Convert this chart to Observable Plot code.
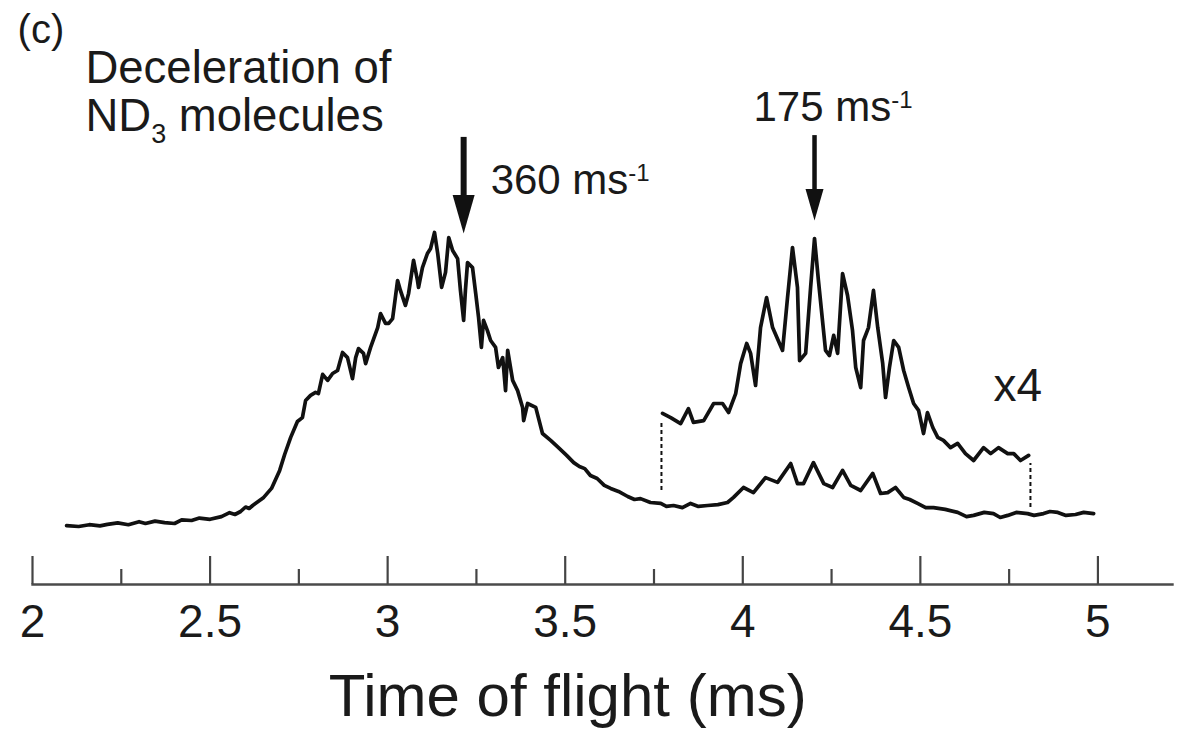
<!DOCTYPE html>
<html><head><meta charset="utf-8">
<script src="https://cdn.jsdelivr.net/npm/d3@7"></script>
<script src="https://cdn.jsdelivr.net/npm/@observablehq/plot@0.6"></script>
<style>html,body{margin:0;padding:0;background:#fff;}#chart{width:1179px;height:731px;}</style>
</head><body><div id="chart"></div>
<script>
// Full ND3 trace: [time of flight (ms), signal (arb. units)]
const mainTrace = [[2.096,3.3],[2.13,3.0],[2.16,3.6],[2.19,3.2],[2.211,3.7],[2.24,4.2],[2.27,3.6],[2.30,4.6],[2.318,4.0],[2.345,4.8],[2.372,4.3],[2.40,4.0],[2.42,5.2],[2.448,5.0],[2.47,5.8],[2.50,5.4],[2.532,6.3],[2.555,7.6],[2.57,7.0],[2.586,8.0],[2.60,9.5],[2.61,9.0],[2.620,10.0],[2.651,12.7],[2.673,15.7],[2.696,21.7],[2.710,27.0],[2.727,32.7],[2.746,38.0],[2.760,39.3],[2.769,45.0],[2.783,46.7],[2.797,47.7],[2.805,47.3],[2.817,53.7],[2.831,51.7],[2.845,54.0],[2.859,55.0],[2.873,61.0],[2.887,59.3],[2.901,52.3],[2.910,59.3],[2.918,62.3],[2.932,60.7],[2.938,57.3],[2.952,62.7],[2.972,69.3],[2.980,74.0],[2.994,70.7],[3.003,70.7],[3.014,72.3],[3.028,85.0],[3.036,81.7],[3.050,76.7],[3.059,80.7],[3.073,91.7],[3.084,85.0],[3.087,82.7],[3.098,89.3],[3.112,94.0],[3.121,95.7],[3.132,101.0],[3.141,94.0],[3.152,82.7],[3.163,87.7],[3.172,99.3],[3.183,95.0],[3.197,92.3],[3.205,81.7],[3.214,71.7],[3.219,81.7],[3.225,91.0],[3.239,89.3],[3.248,80.7],[3.256,72.7],[3.264,62.7],[3.270,71.7],[3.281,68.3],[3.290,65.0],[3.304,62.7],[3.312,56.0],[3.324,59.3],[3.332,48.3],[3.338,61.7],[3.352,51.7],[3.366,48.3],[3.380,42.7],[3.383,38.3],[3.394,44.0],[3.417,42.7],[3.436,34.0],[3.459,31.7],[3.481,29.3],[3.504,26.7],[3.524,24.3],[3.54,23.0],[3.555,22.3],[3.571,20.0],[3.59,19.0],[3.61,16.7],[3.628,15.7],[3.65,14.7],[3.676,13.0],[3.695,12.0],[3.712,12.3],[3.74,11.0],[3.769,10.7],[3.785,9.7],[3.805,10.0],[3.83,9.3],[3.853,10.7],[3.875,9.7],[3.901,10.0],[3.93,10.3],[3.957,11.0],[3.974,12.7],[4.002,16.0],[4.030,14.3],[4.064,19.3],[4.098,17.7],[4.135,24.0],[4.154,17.3],[4.171,17.3],[4.199,24.3],[4.228,17.3],[4.253,16.0],[4.281,21.7],[4.304,16.7],[4.332,15.0],[4.366,20.7],[4.388,14.0],[4.408,14.3],[4.430,16.0],[4.453,12.7],[4.47,12.0],[4.492,10.7],[4.515,9.3],[4.537,9.3],[4.57,8.7],[4.605,7.7],[4.63,6.3],[4.650,6.7],[4.68,7.7],[4.706,7.3],[4.725,6.0],[4.746,6.7],[4.77,7.7],[4.802,7.3],[4.82,6.7],[4.847,7.3],[4.865,8.0],[4.887,7.7],[4.91,6.7],[4.937,7.0],[4.96,7.7],[4.988,7.3]];
// Magnified (x4) slow part: [time of flight (ms), signal]
const x4Trace = [[3.774,40.7],[3.797,39.3],[3.825,37.3],[3.847,42.3],[3.861,37.7],[3.890,38.3],[3.918,44.0],[3.943,44.0],[3.960,41.0],[3.980,47.3],[3.994,57.3],[4.011,64.0],[4.022,60.7],[4.036,50.0],[4.050,69.3],[4.067,79.3],[4.084,69.3],[4.112,61.7],[4.126,79.3],[4.140,96.0],[4.154,82.7],[4.160,58.3],[4.177,60.7],[4.191,82.7],[4.202,99.0],[4.213,85.0],[4.233,61.7],[4.244,60.0],[4.256,66.7],[4.267,60.7],[4.281,87.3],[4.295,80.0],[4.309,68.3],[4.318,56.0],[4.332,49.3],[4.340,65.0],[4.354,69.3],[4.368,81.7],[4.380,69.3],[4.394,57.3],[4.402,46.0],[4.413,56.0],[4.425,65.0],[4.439,62.7],[4.453,55.0],[4.467,49.3],[4.481,44.0],[4.495,41.7],[4.509,34.0],[4.520,41.0],[4.535,36.0],[4.549,32.7],[4.565,31.7],[4.585,29.3],[4.605,30.7],[4.627,27.3],[4.650,25.0],[4.678,29.3],[4.698,27.3],[4.720,29.3],[4.746,27.3],[4.763,27.3],[4.782,25.0],[4.805,26.7]];
// dashed connectors of the x4 trace
const connT = [3.771, 4.810];
const connTop = [38.3, 24.0];
const connBottom = [15.0, 9.3];
// velocity arrows
const arrowT = [3.214, 4.202];
const arrowTop = [132.7, 133.3];
const arrowTip = [100.7, 105.0];
// axis
const majorTicks = [2, 2.5, 3, 3.5, 4, 4.5, 5];
const tickLabels = ["2", "2.5", "3", "3.5", "4", "4.5", "5"];
const minorTicks = [2.25, 2.75, 3.25, 3.75, 4.25, 4.75];

const mainData = mainTrace.map(([t, v]) => ({t, v}));
const x4Data = x4Trace.map(([t, v]) => ({t, v}));
const conn = connT.map((t, i) => ({t, top: connTop[i], bottom: connBottom[i]}));
const headR = [11, 9];
const shaftW = [6, 4.5];
const arrows = arrowT.map((t, i) => ({t, top: arrowTop[i], tip: arrowTip[i], r: headR[i], w: shaftW[i]}));

const headSymbol = {
  draw(context, size) {
    const r = Math.sqrt(size / Math.PI);
    const h = r * 3.5;
    context.moveTo(0, 0);
    context.lineTo(-r, -h);
    context.lineTo(r, -h);
    context.closePath();
  }
};

const axisLevel = -16.33, majorTop = -7.0, minorTop = -11.33;
const ink = "#111";
const txt = "#1a1a1a";
const font = "'Liberation Sans', Arial, Helvetica, sans-serif";

const chart = Plot.plot({
  width: 1179,
  height: 731,
  marginLeft: 32,
  marginRight: 7,
  marginTop: 0,
  marginBottom: 147,
  style: {fontFamily: font, background: "#fff", color: ink},
  x: {domain: [2, 5.21]},
  y: {domain: [0, 100], range: [535, 235], axis: null},
  r: {type: "identity"},
  marks: [
    Plot.frame({anchor: "bottom", stroke: "#4a4a4a", strokeWidth: 2.4}),
    Plot.ruleX(majorTicks, {x: d => d, y1: axisLevel, y2: majorTop, stroke: "#444", strokeWidth: 2.2}),
    Plot.ruleX(minorTicks, {x: d => d, y1: axisLevel, y2: minorTop, stroke: "#444", strokeWidth: 2.2}),
    Plot.axisX(majorTicks, {tickSize: 0, tickPadding: 20, fontSize: 46, fill: txt,
      tickFormat: d => tickLabels[majorTicks.indexOf(d)], label: null}),
    Plot.ruleX(conn, {x: "t", y1: "bottom", y2: "top", stroke: ink, strokeWidth: 2, strokeDasharray: "4,3"}),
    Plot.line(mainData, {x: "t", y: "v", stroke: ink, strokeWidth: 3.7, strokeLinejoin: "round", strokeLinecap: "round"}),
    Plot.line(x4Data, {x: "t", y: "v", stroke: ink, strokeWidth: 3.7, strokeLinejoin: "round", strokeLinecap: "round"}),
    Plot.ruleX(arrows, {x: "t", y1: "top", y2: d => d.tip + 6, stroke: ink, strokeWidth: d => d.w}),
    Plot.dot(arrows, {x: "t", y: "tip", r: "r", symbol: headSymbol, fill: ink, stroke: "none"}),
    Plot.text(["(c)"], {x: 1.958, y: 164.3, text: d => d, textAnchor: "start", lineAnchor: "bottom", fontSize: 40, fill: txt}),
    Plot.text(["Deceleration of"], {x: 2.149, y: 150.7, text: d => d, textAnchor: "start", lineAnchor: "bottom", fontSize: 45.5, fill: txt}),
    Plot.text(["ND_3_ molecules"], {x: 2.149, y: 135, text: d => d, textAnchor: "start", lineAnchor: "bottom", fontSize: 45.5, fill: txt}),
    Plot.text(["360 ms^-1"], {x: 3.290, y: 114, text: d => d, textAnchor: "start", lineAnchor: "bottom", fontSize: 42, fill: txt}),
    Plot.text(["175 ms^-1"], {x: 4.030, y: 138.3, text: d => d, textAnchor: "start", lineAnchor: "bottom", fontSize: 42, fill: txt}),
    Plot.text(["x4"], {x: 4.706, y: 44.7, text: d => d, textAnchor: "start", lineAnchor: "bottom", fontSize: 46, fill: txt}),
    Plot.text(["Time of flight (ms)"], {x: 3.507, y: -60.3, text: d => d, textAnchor: "middle", lineAnchor: "bottom", fontSize: 60, fill: txt})
  ]
});

// superscripts / subscripts as tspans
const NS = "http://www.w3.org/2000/svg";
chart.querySelectorAll("text").forEach(el => {
  const s = el.textContent;
  if (s.includes("^")) {
    const [a, b] = s.split("^");
    el.textContent = "";
    const t1 = document.createElementNS(NS, "tspan"); t1.textContent = a; el.appendChild(t1);
    const t2 = document.createElementNS(NS, "tspan"); t2.textContent = b;
    t2.setAttribute("dy", "-13"); t2.setAttribute("font-size", "24"); el.appendChild(t2);
  } else if (s.includes("_")) {
    const [a, b, c] = s.split("_");
    el.textContent = "";
    const t1 = document.createElementNS(NS, "tspan"); t1.textContent = a; el.appendChild(t1);
    const t2 = document.createElementNS(NS, "tspan"); t2.textContent = b;
    t2.setAttribute("dy", "12"); t2.setAttribute("font-size", "27"); el.appendChild(t2);
    const t3 = document.createElementNS(NS, "tspan"); t3.textContent = c;
    t3.setAttribute("dy", "-12"); el.appendChild(t3);
  }
});
document.getElementById("chart").appendChild(chart);
</script>
</body></html>
